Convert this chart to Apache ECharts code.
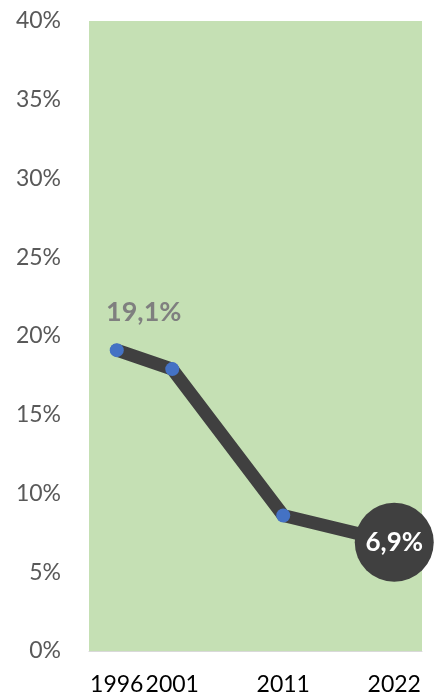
<!DOCTYPE html>
<html>
<head>
<meta charset="utf-8">
<script src="https://cdn.jsdelivr.net/npm/echarts@6/dist/echarts.min.js"></script>
<style>
  html, body { margin: 0; padding: 0; background: #fff; }
  #chart { width: 436px; height: 699px; }
</style>
</head>
<body>
<div id="chart"></div>
<script>
// categories (blank slots keep the uneven spacing between years)
var years = ['1996', '2001', '', '2011', '', '2022'];
// share in %
var values = [19.1, 17.9, null, 8.6, null, 6.9];
var yTicks = [0, 5, 10, 15, 20, 25, 30, 35, 40];

var font = 'Lato, "Noto Sans", sans-serif';
var lastIdx = values.length - 1;

function pct(p) {
  return String(p.value).replace('.', ',') + '%';
}

var chart = echarts.init(document.getElementById('chart'));

var data = values.map(function (v, i) {
  if (v === null) return null;
  var item = { value: v };
  if (i === 0) {
    item.label = {
      show: true,
      position: 'top',
      offset: [27, -12],
      color: '#7f7f7f',
      fontWeight: 'bold',
      fontSize: 27,
      fontFamily: font,
      formatter: pct
    };
  }
  if (i === lastIdx) {
    item.symbolSize = 79;
    item.itemStyle = { color: '#404040' };
    item.label = {
      show: true,
      position: 'inside',
      color: '#fff',
      fontWeight: 'bold',
      fontSize: 26,
      fontFamily: font,
      formatter: pct
    };
  }
  return item;
});

chart.setOption({
  animation: false,
  grid: {
    left: 89,
    right: 14,
    top: 21,
    bottom: 48,
    show: true,
    backgroundColor: '#c5e0b4',
    borderWidth: 0
  },
  xAxis: {
    type: 'category',
    data: years,
    boundaryGap: true,
    axisLine: { show: true, lineStyle: { color: '#d9d9d9', width: 1 } },
    axisTick: { show: false },
    axisLabel: {
      color: '#000',
      fontSize: 23,
      fontFamily: font,
      margin: 22,
      interval: 0
    }
  },
  yAxis: {
    type: 'value',
    min: yTicks[0],
    max: yTicks[yTicks.length - 1],
    interval: 5,
    splitLine: { show: false },
    axisLine: { show: false },
    axisTick: { show: false },
    axisLabel: {
      color: '#595959',
      fontSize: 23,
      fontFamily: font,
      margin: 28,
      formatter: '{value}%'
    }
  },
  series: [{
    type: 'line',
    data: data,
    connectNulls: true,
    symbol: 'circle',
    symbolSize: 14,
    lineStyle: { color: '#404040', width: 13, cap: 'round', join: 'round' },
    itemStyle: { color: '#4472c4' },
    z: 3
  }]
});
</script>
</body>
</html>
